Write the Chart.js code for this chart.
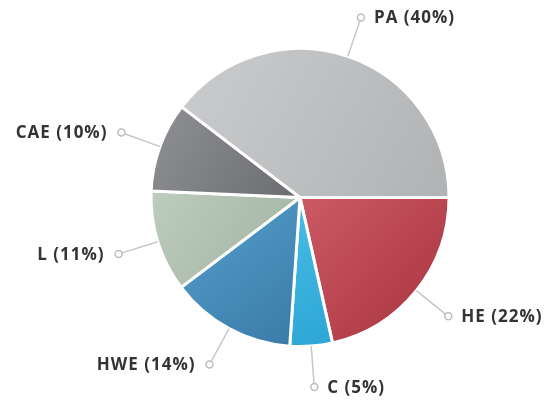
<!DOCTYPE html>
<html>
<head>
<meta charset="utf-8">
<script src="https://cdn.jsdelivr.net/npm/chart.js@4"></script>
<style>
  html, body { margin: 0; padding: 0; background: #fff; }
  #wrap { width: 553px; height: 400px; }
</style>
</head>
<body>
<div id="wrap"><canvas id="pie-chart" width="553" height="400"></canvas></div>
<script>
// chart data (slice order is clockwise from 3 o'clock)
const categories = ["HE", "C", "HWE", "L", "CAE", "PA"];
const shares = [21.5, 4.6, 13.6, 11.0, 9.7, 39.6];
const lightColors = ["#cc5a64", "#47bee6", "#55a0cd", "#bdccbc", "#8f9194", "#caccce"];
const darkColors  = ["#a6323e", "#2ea6d5", "#3a7aa8", "#a2b2a1", "#6a6c6f", "#b0b2b4"];

const total = shares.reduce((a, b) => a + b, 0);
const RADIUS = 149;

// fill each slice with a light -> dark gradient across its own box
function sliceGradient(c){
  const chart = c.chart;
  const area = chart.chartArea;
  const i = c.dataIndex;
  if (!area) return darkColors[i];
  const cx = (area.left + area.right) / 2;
  const cy = (area.top + area.bottom) / 2;
  let before = 0;
  for (let k = 0; k < i; k++) before += shares[k];
  const a0 = before / total * Math.PI * 2;
  const a1 = (before + shares[i]) / total * Math.PI * 2;

  // bounding box of the slice (centre + sampled arc)
  let minX = cx, maxX = cx, minY = cy, maxY = cy;
  for (let s = 0; s <= 24; s++) {
    const a = a0 + (a1 - a0) * s / 24;
    const x = cx + Math.cos(a) * RADIUS, y = cy + Math.sin(a) * RADIUS;
    minX = Math.min(minX, x); maxX = Math.max(maxX, x);
    minY = Math.min(minY, y); maxY = Math.max(maxY, y);
  }
  const g = chart.ctx.createLinearGradient(minX, minY, maxX, maxY);
  g.addColorStop(0, lightColors[i]);
  g.addColorStop(1, darkColors[i]);
  return g;
}

// outside labels with leader line and small ring marker
const outsideLabels = {
  id: "outsideLabels",
  afterDatasetsDraw(chart){
    const ctx = chart.ctx;
    const arcs = chart.getDatasetMeta(0).data;
    ctx.save();
    arcs.forEach((arc, i) => {
      const mid = (arc.startAngle + arc.endAngle) / 2;
      const cos = Math.cos(mid), sin = Math.sin(mid);
      const r0 = arc.outerRadius, r1 = arc.outerRadius + 41;
      const x0 = arc.x + cos * r0, y0 = arc.y + sin * r0;
      const x1 = arc.x + cos * r1, y1 = arc.y + sin * r1;

      ctx.strokeStyle = "#c6c6c6";
      ctx.lineWidth = 1.5;
      ctx.beginPath();
      ctx.moveTo(x0, y0);
      ctx.lineTo(x1 - cos * 3.5, y1 - sin * 3.5);
      ctx.stroke();

      ctx.beginPath();
      ctx.arc(x1, y1, 3.5, 0, Math.PI * 2);
      ctx.fillStyle = "#fff";
      ctx.fill();
      ctx.strokeStyle = "#bdbdbd";
      ctx.stroke();

      const pct = Math.round(shares[i] / total * 100);
      const text = categories[i] + " (" + pct + "%)";
      ctx.font = "bold 17px 'Open Sans', sans-serif";
      ctx.letterSpacing = "1px";
      ctx.fillStyle = "#333";
      ctx.textBaseline = "middle";
      if (cos >= 0) {
        ctx.textAlign = "left";
        ctx.fillText(text, x1 + 13, y1 + 1);
      } else {
        ctx.textAlign = "right";
        ctx.fillText(text, x1 - 14, y1 + 1);
      }
    });
    ctx.restore();
  }
};

new Chart(document.getElementById("pie-chart"), {
  type: "pie",
  data: {
    labels: categories,
    datasets: [{
      data: shares,
      backgroundColor: sliceGradient,
      borderColor: "#fff",
      borderWidth: 3,
      radius: RADIUS
    }]
  },
  options: {
    responsive: false,
    animation: false,
    rotation: 90,
    layout: { padding: { left: 47, right: 0, top: 0, bottom: 5 } },
    plugins: {
      legend: { display: false },
      tooltip: { enabled: false }
    }
  },
  plugins: [outsideLabels]
});
</script>
</body>
</html>
